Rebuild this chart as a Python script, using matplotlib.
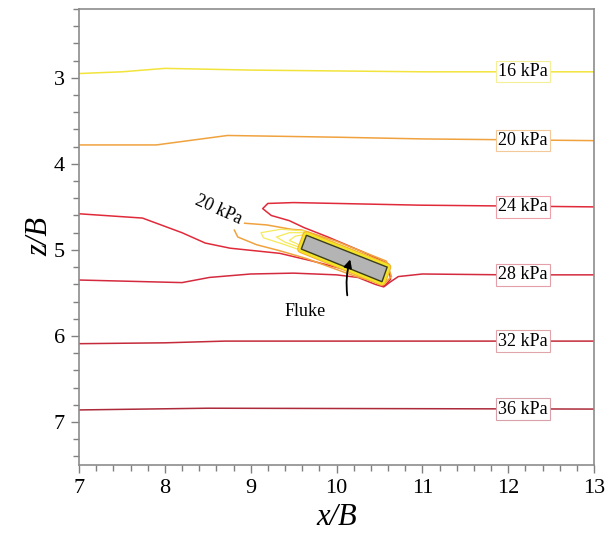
import matplotlib
matplotlib.use("Agg")
import matplotlib.pyplot as plt
from matplotlib.patches import Polygon
from matplotlib.ticker import MultipleLocator
import numpy as np

plt.rcParams["font.family"] = ["Liberation Serif", "DejaVu Serif"]

# pressure contours (x/B, z/B)
c16_x = [7.0, 7.5, 8.0, 8.5, 9.0, 10.0, 11.0, 12.0, 13.0]
c16_z = [2.95, 2.93, 2.89, 2.90, 2.91, 2.92, 2.93, 2.93, 2.93]

c20_x = [7.0, 7.9, 8.73, 10.0, 11.0, 12.0, 13.0]
c20_z = [3.78, 3.78, 3.67, 3.69, 3.71, 3.72, 3.73]

c24_x = [7.0, 7.74, 8.2, 8.47, 8.76, 9.34, 9.72, 10.3, 10.5, 10.56, 10.63,
         10.6, 10.3, 9.9, 9.62, 9.45, 9.24, 9.14, 9.2, 9.5, 10.0, 10.97,
         12.0, 13.0]
c24_z = [4.58, 4.63, 4.80, 4.92, 4.98, 5.04, 5.13, 5.28, 5.40, 5.42, 5.34,
         5.16, 5.02, 4.85, 4.74, 4.66, 4.60, 4.52, 4.46, 4.45, 4.46, 4.48,
         4.49, 4.50]

c28_x = [7.0, 8.2, 8.52, 9.0, 9.5, 10.0, 10.25, 10.45, 10.55, 10.63, 10.72,
         11.0, 12.0, 13.0]
c28_z = [5.35, 5.38, 5.32, 5.28, 5.27, 5.29, 5.32, 5.40, 5.43, 5.37, 5.31,
         5.28, 5.29, 5.29]

c32_x = [7.0, 8.0, 8.7, 10.0, 11.0, 13.0]
c32_z = [6.09, 6.08, 6.06, 6.06, 6.06, 6.06]

c36_x = [7.0, 8.5, 13.0]
c36_z = [6.86, 6.84, 6.85]

# 20 kPa loop wrapped round the fluke
c20_loop_x = [8.93, 9.19, 9.47, 9.60, 10.0, 10.58, 10.64, 10.55, 10.2, 9.65,
              9.34, 9.07, 8.85, 8.81]
c20_loop_z = [4.69, 4.71, 4.76, 4.77, 4.90, 5.13, 5.31, 5.40, 5.30, 5.10,
              5.01, 4.94, 4.85, 4.77]

# 16 kPa loops trailing behind the fluke
y16_loops = [
    ([9.64, 9.35, 9.12, 9.15, 9.40, 9.60], [4.78, 4.76, 4.80, 4.86, 4.94, 5.01]),
    ([9.64, 9.45, 9.30, 9.40, 9.60], [4.80, 4.80, 4.85, 4.91, 4.98]),
    ([9.64, 9.52, 9.45, 9.52, 9.60], [4.82, 4.84, 4.89, 4.92, 4.96]),
]

fluke_x = [9.65, 10.59, 10.53, 9.59]
fluke_z = [4.83, 5.20, 5.37, 4.99]

labels = ["16 kPa", "20 kPa", "24 kPa", "28 kPa", "32 kPa", "36 kPa"]
label_z = [2.93, 3.73, 4.50, 5.29, 6.06, 6.85]
label_x = 12.17

line_colors = ["#f2e43c", "#f0a23e", "#e02a3a", "#d42a3e", "#c42a3a", "#ac2a3a"]
box_colors = ["#f6ef9a", "#f5c89a", "#eda0a8", "#e4a0a8", "#e0a4aa", "#d8a0a8"]

fig = plt.figure(figsize=(6.07, 5.34), dpi=100)
ax = fig.add_axes([79 / 607, 69 / 534, 515 / 607, 456 / 534])

contours = [(c16_x, c16_z), (c20_x, c20_z), (c24_x, c24_z),
            (c28_x, c28_z), (c32_x, c32_z), (c36_x, c36_z)]
for (xs, zs), col in zip(contours, line_colors):
    ax.plot(xs, zs, color=col, lw=1.1, zorder=2)

ax.plot(c20_loop_x, c20_loop_z, color=line_colors[1], lw=1.1, zorder=2)
for xs, zs in y16_loops:
    ax.plot(xs, zs, color="#f5ea5a", lw=0.9, zorder=2)

# fluke with its high-pressure rim
pts = np.column_stack([fluke_x, fluke_z])
ax.add_patch(Polygon(pts, closed=True, fill=False, ec="#f6b030", lw=6,
                     joinstyle="round", zorder=3))
ax.add_patch(Polygon(pts, closed=True, fill=False, ec="#f4e428", lw=4.5,
                     joinstyle="round", zorder=3))
ax.add_patch(Polygon(pts, closed=True, fc="#b4b4b4", ec="#3c3c20", lw=1.0,
                     zorder=4))

for txt, z, bc in zip(labels, label_z, box_colors):
    ax.text(label_x, z, txt, fontsize=13, ha="center", va="center", zorder=5,
            bbox=dict(boxstyle="square,pad=0.12", fc="white", ec=bc, lw=0.8))

ax.text(8.62, 4.53, "20 kPa", fontsize=13, ha="center", va="center",
        rotation=-24, zorder=5,
        bbox=dict(boxstyle="square,pad=0.05", fc="white", ec="none"))

ax.annotate("", xy=(10.17, 5.08), xytext=(10.13, 5.56), zorder=6,
            arrowprops=dict(arrowstyle="-|>", color="black", lw=1.3,
                            mutation_scale=12,
                            connectionstyle="arc3,rad=-0.12"))
ax.text(9.63, 5.72, "Fluke", fontsize=13, ha="center", va="center")

ax.set_xlim(7, 13)
ax.set_ylim(7.5, 2.2)
ax.xaxis.set_major_locator(MultipleLocator(1))
ax.xaxis.set_minor_locator(MultipleLocator(0.2))
ax.yaxis.set_major_locator(MultipleLocator(1))
ax.yaxis.set_minor_locator(MultipleLocator(0.2))
ax.tick_params(which="both", direction="out", color="#808080", width=1,
               labelsize=16, pad=4)
ax.tick_params(which="major", length=6)
ax.tick_params(which="minor", length=4)
for sp in ax.spines.values():
    sp.set_color("#8c8c8c")
    sp.set_linewidth(1.2)

ax.set_xlabel("x/B", fontsize=22, fontstyle="italic", labelpad=4)
ax.set_ylabel("z/B", fontsize=22, fontstyle="italic", labelpad=0)

fig.savefig("out.png", dpi=100)
